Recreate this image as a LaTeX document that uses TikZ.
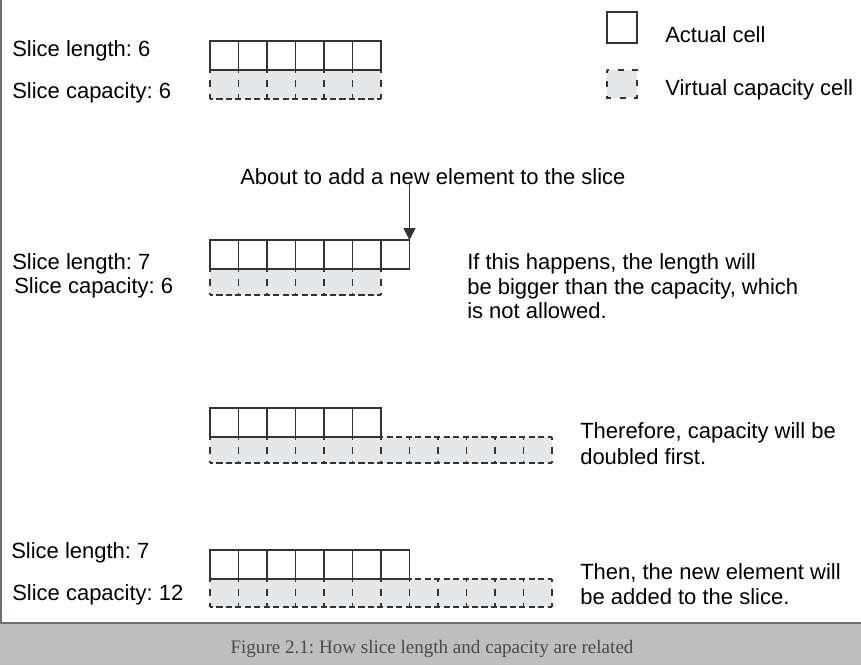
\documentclass[tikz,border=0pt]{standalone}
\usepackage{fontspec}
\setmainfont{Liberation Sans}
\newfontfamily\capfont{Liberation Serif}
\usetikzlibrary{arrows.meta}
\frenchspacing

\definecolor{cellline}{HTML}{333333}
\definecolor{virtfill}{HTML}{E6E7E9}
\definecolor{bandgray}{HTML}{BEBEBE}
\definecolor{framegray}{HTML}{6E6E78}
\definecolor{captext}{HTML}{4A4A4A}

\tikzset{
  actual/.style={draw=cellline, line width=1.1pt, minimum width=21.375pt, minimum height=21.75pt, inner sep=0pt, outer sep=0pt, anchor=north west},
  hdash/.style={draw=cellline, line width=1.1pt, dash pattern=on 4.6pt off 2.5pt, dash phase=2.3pt},
  vdash/.style={draw=cellline, line width=1.1pt, dash pattern=on 5pt off 5.1pt, dash phase=2.5pt},
  lbl/.style={inner sep=0pt, anchor=base west, font=\fontsize{16.5}{19}\selectfont, text=black},
}

\begin{document}
\begin{tikzpicture}[x=0.75pt, y=-0.75pt]
  \useasboundingbox (0,0) rectangle (861,665);

  % frame and caption band
  \fill[bandgray] (0,623) rectangle (861,665);
  \draw[framegray, line width=1pt] (1,0) -- (1,623) -- (861,623);
  \node[font=\capfont\fontsize{14.3}{16}\selectfont, text=captext] (caption) at (432,649) {Figure 2.1: How slice length and capacity are related};

  % legend
  \node[actual, minimum width=22.5pt, minimum height=23.25pt] (legActual) at (607,12) {};
  \node[lbl] (legActualTxt) at (665,42) {Actual cell};
  \fill[virtfill] (607,70) rectangle (637,98);
  \draw[vdash, dash pattern=on 4.5pt off 6.5pt] (607,70) rectangle (637,98);
  \node[lbl] (legVirtTxt) at (665,95) {Virtual capacity cell};

  % row 1: length 6, capacity 6
  \node[lbl] (len1) at (12,56) {Slice length: 6};
  \node[lbl] (cap1) at (12,98) {Slice capacity: 6};
  \fill[virtfill] (210,70) rectangle ++(171,29);
  \draw[hdash] (210,70) -- ++(171,0);
  \draw[hdash] (210,99) -- ++(171,0);
  \foreach \i in {0,...,6}
    \draw[vdash] ({210+\i*28.5},70) -- ++(0,29);
  \foreach \i in {1,...,6}
    \node[actual] (r1a\i) at ({210+(\i-1)*28.5},41) {};

  % row 2: about to add
  \node[lbl] (addTxt) at (240,184) {About to add a new element to the slice};
  \coordinate (addTop) at (409.5,182);
  \node[lbl] (len2) at (12,269) {Slice length: 7};
  \node[lbl] (cap2) at (14,293) {Slice capacity: 6};
  \fill[virtfill] (210,269) rectangle ++(171,26);
  \draw[hdash] (210,269) -- ++(171,0);
  \draw[hdash] (210,295) -- ++(171,0);
  \foreach \i in {0,...,6}
    \draw[vdash] ({210+\i*28.5},269) -- ++(0,26);
  \foreach \i in {1,...,7}
    \node[actual] (r2a\i) at ({210+(\i-1)*28.5},240) {};
  \draw[cellline, line width=1.1pt, -{Triangle[width=9pt,length=9pt]}] (addTop) -- (addTop |- r2a7.north east);
  \node[lbl] (happen1) at (467,269) {If this happens, the length will};
  \node[lbl] (happen2) at (467,294) {be bigger than the capacity, which};
  \node[lbl] (happen3) at (467,318) {is not allowed.};

  % row 3: capacity doubled
  \fill[virtfill] (210,437) rectangle ++(342,26);
  \draw[hdash] (210,437) -- ++(342,0);
  \draw[hdash] (210,463) -- ++(342,0);
  \foreach \i in {0,...,12}
    \draw[vdash] ({210+\i*28.5},437) -- ++(0,26);
  \foreach \i in {1,...,6}
    \node[actual] (r3a\i) at ({210+(\i-1)*28.5},408) {};
  \node[lbl] (double1) at (580,438) {Therefore, capacity will be};
  \node[lbl] (double2) at (580,464) {doubled first.};

  % row 4: length 7, capacity 12
  \node[lbl] (len4) at (11,558) {Slice length: 7};
  \node[lbl] (cap4) at (12,600) {Slice capacity: 12};
  \fill[virtfill] (210,579) rectangle ++(342,28);
  \draw[hdash] (210,579) -- ++(342,0);
  \draw[hdash] (210,607) -- ++(342,0);
  \foreach \i in {0,...,12}
    \draw[vdash] ({210+\i*28.5},579) -- ++(0,28);
  \foreach \i in {1,...,7}
    \node[actual] (r4a\i) at ({210+(\i-1)*28.5},550) {};
  \node[lbl] (added1) at (580,579) {Then, the new element will};
  \node[lbl] (added2) at (580,604) {be added to the slice.};
\end{tikzpicture}
\end{document}
